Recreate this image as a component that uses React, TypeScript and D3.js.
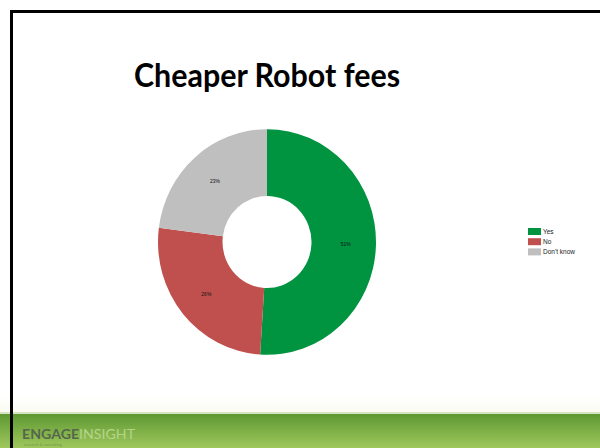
import React, { useEffect, useRef } from 'react';
import * as d3 from 'd3';

const categories = ['Yes', 'No', "Don't know"];
const values = [51, 26, 23];
const colors = ['#009340', '#c0504d', '#bfbfbf'];

const App = () => {
  const svgRef = useRef<SVGSVGElement>(null);

  useEffect(() => {
    const width = 600;
    const height = 448;
    const svg = d3.select(svgRef.current).attr('width', width).attr('height', height);
    svg.selectAll('*').remove();

    const defs = svg.append('defs');
    const grad = defs.append('linearGradient').attr('id', 'band').attr('x1', 0).attr('y1', 0).attr('x2', 0).attr('y2', 1);
    grad.append('stop').attr('offset', '0%').attr('stop-color', '#5e9833');
    grad.append('stop').attr('offset', '100%').attr('stop-color', '#9fc85c');
    const fade = defs.append('linearGradient').attr('id', 'fade').attr('x1', 0).attr('y1', 0).attr('x2', 0).attr('y2', 1);
    fade.append('stop').attr('offset', '0%').attr('stop-color', '#ffffff');
    fade.append('stop').attr('offset', '100%').attr('stop-color', '#fbfbf3');

    svg.append('rect').attr('width', width).attr('height', height).attr('fill', '#fff');
    svg.append('rect').attr('x', 0).attr('y', 395).attr('width', width).attr('height', 18).attr('fill', 'url(#fade)');

    // footer band
    svg.append('rect').attr('x', 0).attr('y', 412).attr('width', width).attr('height', 2).attr('fill', '#d7e4c4');
    svg.append('rect').attr('x', 0).attr('y', 414).attr('width', width).attr('height', 34).attr('fill', 'url(#band)');
    const logo = svg.append('text').attr('x', 22).attr('y', 439)
      .attr('font-family', 'Lato, sans-serif').attr('font-weight', 'bold').attr('font-size', 13)
      .attr('textLength', 113).attr('lengthAdjust', 'spacingAndGlyphs');
    logo.append('tspan').attr('fill', '#56664c').text('ENGAGE');
    logo.append('tspan').attr('fill', '#b5d48a').attr('font-weight', 'normal').text('INSIGHT');
    svg.append('text').attr('x', 24).attr('y', 446).attr('font-family', 'Lato, sans-serif')
      .attr('font-size', 4).attr('fill', '#6f9a4a').text('research & consulting');

    // slide frame
    svg.append('path').attr('d', `M11.5,${height} V11.5 H${width}`)
      .attr('fill', 'none').attr('stroke', '#000').attr('stroke-width', 3);

    svg.append('text').attr('x', 267).attr('y', 87).attr('text-anchor', 'middle')
      .attr('font-family', 'Lato, sans-serif').attr('font-weight', 'bold').attr('font-size', 33)
      .attr('textLength', 266).attr('lengthAdjust', 'spacingAndGlyphs')
      .attr('fill', '#000').text('Cheaper Robot fees');

    const data = categories.map((c, i) => ({ c, v: values[i], color: colors[i] }));
    const pie = d3.pie<any>().value((d) => d.v).sort(null);
    const arcs = pie(data);
    const outer = 109;
    const inner = 44.5;
    const arc = d3.arc<any>().innerRadius(inner).outerRadius(outer);
    const labelArc = d3.arc<any>().innerRadius((inner + outer) / 2 + 2).outerRadius((inner + outer) / 2 + 2);

    const g = svg.append('g').attr('transform', 'translate(267,242) scale(1,1.035)');
    g.selectAll('path.slice').data(arcs).enter().append('path')
      .attr('class', 'slice').attr('d', arc).attr('fill', (d) => d.data.color);
    g.selectAll('text.lbl').data(arcs).enter().append('text')
      .attr('class', 'lbl')
      .attr('transform', (d) => `translate(${labelArc.centroid(d)})`)
      .attr('text-anchor', 'middle').attr('dy', '0.35em')
      .attr('font-family', 'Liberation Sans, Arial, sans-serif').attr('font-size', 5)
      .attr('fill', '#111').text((d) => `${d.data.v}%`);

    const legend = svg.append('g').attr('transform', 'translate(528,228)');
    const row = legend.selectAll('g').data(data).enter().append('g')
      .attr('transform', (d, i) => `translate(0,${i * 10.2})`);
    row.append('rect').attr('width', 13).attr('height', 7).attr('fill', (d) => d.color);
    row.append('text').attr('x', 15).attr('y', 6).attr('font-family', 'Liberation Sans, Arial, sans-serif')
      .attr('font-size', 6.5).attr('fill', '#222').text((d) => d.c);
  }, []);

  return <svg ref={svgRef} style={{ position: 'absolute', left: 0, top: 0 }}></svg>;
};

export default App;
